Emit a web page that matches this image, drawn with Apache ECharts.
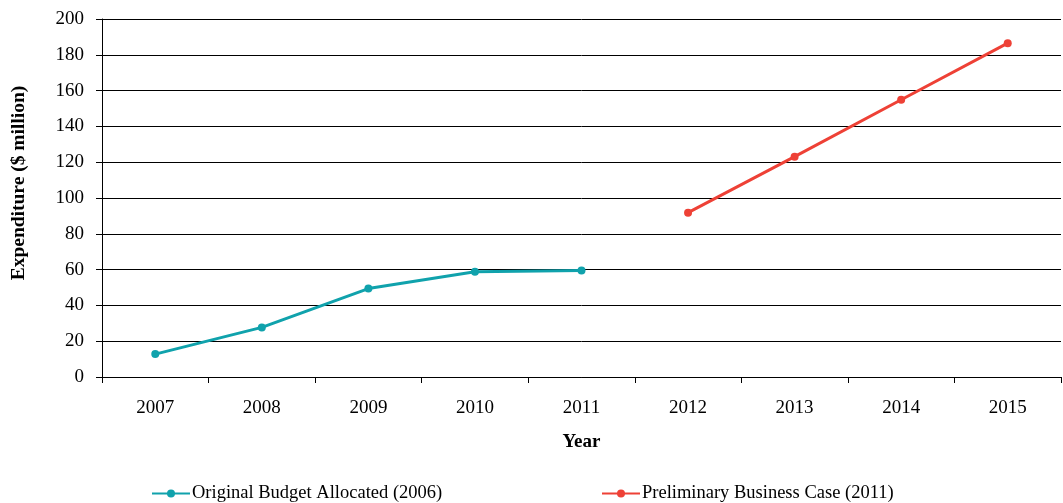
<!DOCTYPE html>
<html><head><meta charset="utf-8">
<script src="https://cdn.jsdelivr.net/npm/echarts@6/dist/echarts.min.js"></script>
<style>html,body{margin:0;padding:0;background:#fff}#c{width:1063px;height:503px}</style>
</head><body><div id="c"></div>
<script>
const years = ['2007','2008','2009','2010','2011','2012','2013','2014','2015'];
const originalBudget = [12.8, 27.7, 49.4, 58.8, 59.5, null, null, null, null];
const businessCase = [null, null, null, null, null, 91.8, 123.1, 154.9, 186.5];
const yTicks = {min: 0, max: 200, interval: 20};
const nameA = 'Original Budget Allocated (2006)';
const nameB = 'Preliminary Business Case (2011)';
const teal = '#10a2ac', red = '#ee4136';
const serif = '"Liberation Serif","DejaVu Serif",serif';
const chart = echarts.init(document.getElementById('c'));
chart.setOption({
  animation: false,
  backgroundColor: '#fff',
  textStyle: {fontFamily: serif},
  grid: {left: 102, right: 2, top: 19, bottom: 126, containLabel: false},
  legend: [
    {data: [nameA], left: 146, top: 479, itemWidth: 38, itemHeight: 10,
     textStyle: {fontFamily: serif, fontSize: 18.5, color: '#000', padding: [0,0,0,-3]}},
    {data: [nameB], left: 596, top: 479, itemWidth: 38, itemHeight: 10,
     textStyle: {fontFamily: serif, fontSize: 18.5, color: '#000', padding: [0,0,0,-3]}}
  ],
  xAxis: {
    type: 'category', data: years, boundaryGap: true,
    name: 'Year', nameLocation: 'middle', nameGap: 56,
    nameTextStyle: {fontFamily: serif, fontWeight: 'bold', fontSize: 19, color: '#000'},
    axisLine: {lineStyle: {color: '#000', width: 1}},
    axisTick: {show: true, inside: false, length: 6, alignWithLabel: false, lineStyle: {color: '#000'}},
    axisLabel: {fontFamily: serif, fontSize: 19, color: '#000', margin: 22},
    splitLine: {show: false}
  },
  yAxis: {
    type: 'value', min: yTicks.min, max: yTicks.max, interval: yTicks.interval,
    name: 'Expenditure ($ million)', nameLocation: 'middle', nameGap: 73,
    nameTextStyle: {fontFamily: serif, fontWeight: 'bold', fontSize: 19.5, color: '#000', padding: [0,0,0,30]},
    axisLine: {show: true, lineStyle: {color: '#000', width: 1}},
    axisTick: {show: true, length: 6, lineStyle: {color: '#000'}},
    axisLabel: {fontFamily: serif, fontSize: 19, color: '#000', margin: 18},
    splitLine: {show: true, lineStyle: {color: '#000', width: 1}}
  },
  series: [
    {name: nameA, type: 'line', data: originalBudget, color: teal,
     symbol: 'circle', symbolSize: 8, lineStyle: {width: 3, color: teal},
     itemStyle: {color: teal}, connectNulls: false},
    {name: nameB, type: 'line', data: businessCase, color: red,
     symbol: 'circle', symbolSize: 8, lineStyle: {width: 3, color: red},
     itemStyle: {color: red}, connectNulls: false}
  ]
});
</script></body></html>
